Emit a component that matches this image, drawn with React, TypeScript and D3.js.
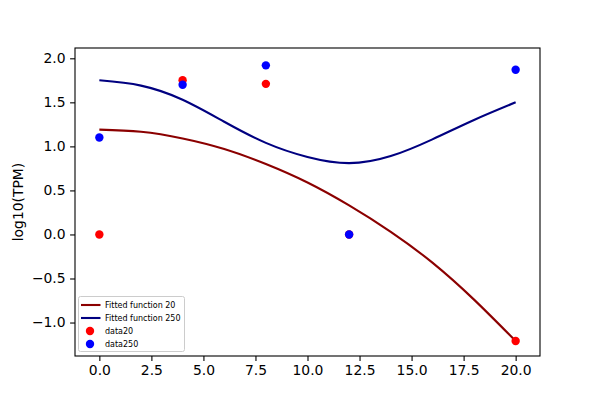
import { useEffect, useRef } from 'react'
import * as d3 from 'd3'

// fitted curves at every 2 units of x
const fitX = [0, 2, 4, 6, 8, 10, 12, 14, 16, 18, 20]
const fit20 = [1.19, 1.166, 1.09, 0.97, 0.8, 0.59, 0.33, 0.03, -0.32, -0.74, -1.21]
const fit250 = [1.75, 1.69, 1.53, 1.28, 1.04, 0.88, 0.81, 0.89, 1.08, 1.3, 1.5]

// scatter data
const dataX = [0, 4, 8, 12, 20]
const data20 = [0, 1.75, 1.71, 0, -1.21]
const data250 = [1.1, 1.7, 1.92, 0, 1.87]

const xTicks = [0, 2.5, 5, 7.5, 10, 12.5, 15, 17.5, 20]
const yTicks = [-1, -0.5, 0, 0.5, 1, 1.5, 2]

const legendItems = [
  { label: 'Fitted function 20', kind: 'line', color: '#8b0000' },
  { label: 'Fitted function 250', kind: 'line', color: '#000080' },
  { label: 'data20', kind: 'dot', color: '#ff0000' },
  { label: 'data250', kind: 'dot', color: '#0000ff' },
]

const FONT = '"DejaVu Sans", sans-serif'
const minus = (s: string) => s.replace('-', '\u2212')

export default function App() {
  const svgRef = useRef<SVGSVGElement>(null)

  useEffect(() => {
    document.body.style.margin = '0'
    if (!svgRef.current) return
    const svg = d3.select(svgRef.current)
    svg.selectAll('*').remove()

    const left = 75, right = 540, top = 48, bottom = 356
    const x = d3.scaleLinear().domain([-1.17, 21.17]).range([left, right])
    const y = d3.scaleLinear().domain([-1.38, 2.117]).range([bottom, top])

    svg.append('rect').attr('width', 600).attr('height', 400).attr('fill', '#fff')

    const line = d3.line<number>()
      .x((_, i) => x(fitX[i]))
      .y(d => y(d))
      .curve(d3.curveNatural)

    svg.append('path').datum(fit20).attr('d', line)
      .attr('fill', 'none').attr('stroke', '#8b0000').attr('stroke-width', 2.1)
    svg.append('path').datum(fit250).attr('d', line)
      .attr('fill', 'none').attr('stroke', '#000080').attr('stroke-width', 2.1)

    svg.append('g').selectAll('circle').data(data20).join('circle')
      .attr('cx', (_, i) => x(dataX[i])).attr('cy', d => y(d)).attr('r', 4.2).attr('fill', '#ff0000')
    svg.append('g').selectAll('circle').data(data250).join('circle')
      .attr('cx', (_, i) => x(dataX[i])).attr('cy', d => y(d)).attr('r', 4.2).attr('fill', '#0000ff')

    // axes
    const xAxis = svg.append('g')
      .attr('transform', `translate(0,${bottom})`)
      .call(d3.axisBottom(x).tickValues(xTicks).tickSize(4.9).tickPadding(4.5).tickFormat(d => minus(d3.format('.1f')(d as number))))
    const yAxis = svg.append('g')
      .attr('transform', `translate(${left},0)`)
      .call(d3.axisLeft(y).tickValues(yTicks).tickSize(4.9).tickPadding(4.5).tickFormat(d => minus(d3.format('.1f')(d as number))))
    ;[xAxis, yAxis].forEach(a => {
      a.select('.domain').remove()
      a.selectAll('.tick line').attr('stroke', '#000').attr('stroke-width', 1.1)
      a.selectAll('.tick text').attr('fill', '#000').attr('font-size', '13.9px').attr('font-family', FONT)
    })

    svg.append('rect')
      .attr('x', left).attr('y', top).attr('width', right - left).attr('height', bottom - top)
      .attr('fill', 'none').attr('stroke', '#000').attr('stroke-width', 1.1)

    svg.append('text')
      .attr('transform', `translate(23,${(top + bottom) / 2}) rotate(-90)`)
      .attr('text-anchor', 'middle')
      .attr('font-family', FONT).attr('font-size', '13.9px')
      .text('log10(TPM)')

    // legend
    const lg = svg.append('g')
    lg.append('rect')
      .attr('x', 78.5).attr('y', 296.5).attr('width', 106).attr('height', 55)
      .attr('rx', 2).attr('fill', '#fff').attr('fill-opacity', 0.8)
      .attr('stroke', '#cccccc').attr('stroke-width', 1)
    legendItems.forEach((it, i) => {
      const cy = 305 + i * 13
      if (it.kind === 'line') {
        lg.append('line').attr('x1', 81).attr('x2', 100.5).attr('y1', cy).attr('y2', cy)
          .attr('stroke', it.color).attr('stroke-width', 2.1)
      } else {
        lg.append('circle').attr('cx', 90).attr('cy', cy).attr('r', 4.2).attr('fill', it.color)
      }
      lg.append('text').attr('x', 105).attr('y', cy).attr('dy', '0.35em')
        .attr('font-family', FONT).attr('font-size', '8px').text(it.label)
    })
  }, [])

  return <svg ref={svgRef} width={600} height={400} style={{ display: 'block' }} />
}
